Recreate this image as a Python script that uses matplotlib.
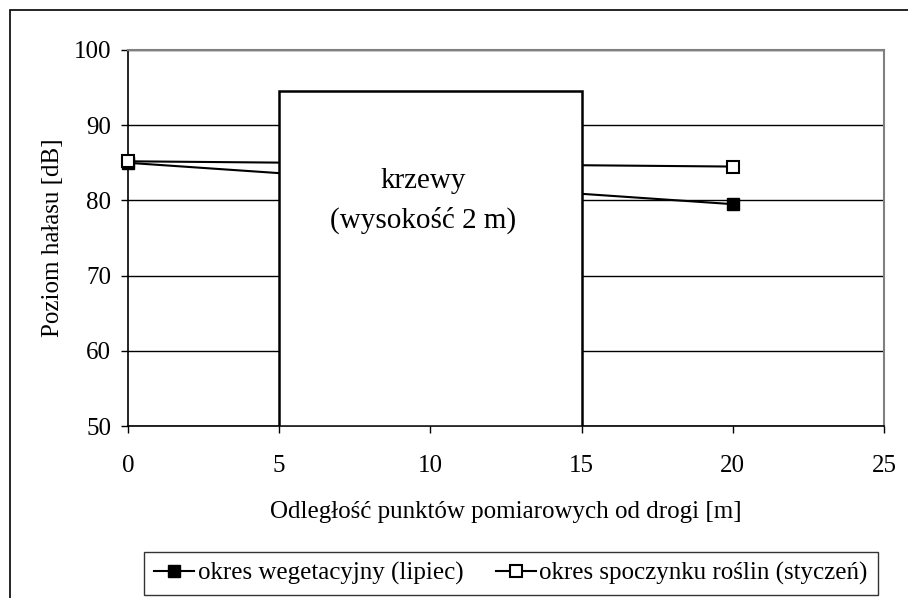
import matplotlib.pyplot as plt
from matplotlib.patches import Rectangle

plt.rcParams['font.family'] = ['Liberation Serif', 'DejaVu Serif']

# distance from the road [m]
distance = [0, 20]
summer = [85.0, 79.5]   # okres wegetacyjny (lipiec)
winter = [85.2, 84.5]   # okres spoczynku roślin (styczeń)

# shrub belt: from 5 m to 15 m, drawn up to 94.5 dB
shrub_x = (5, 15)
shrub_top = 94.5

xticks = [0, 5, 10, 15, 20, 25]
yticks = [50, 60, 70, 80, 90, 100]

FS = 18
GRAY = "#808080"

fig = plt.figure(figsize=(9.08, 5.98), dpi=100)
ax = fig.add_axes([0.141, 0.2876, 0.8326, 0.6288])

ax.plot(distance, summer, color="black", lw=1.5, marker="s", ms=8,
        mfc="black", mec="black", label="okres wegetacyjny (lipiec)", zorder=3,
        clip_on=False)
ax.plot(distance, winter, color="black", lw=1.5, marker="s", ms=8,
        mfc="white", mec="black", mew=1.5,
        label="okres spoczynku roślin (styczeń)", zorder=4, clip_on=False)

ax.add_patch(Rectangle((shrub_x[0], 50), shrub_x[1] - shrub_x[0], shrub_top - 50,
                       facecolor="white", edgecolor="black", lw=1.8, zorder=5))
ax.text((shrub_x[0] + shrub_x[1]) / 2 - 0.25, 79.9, "krzewy\n(wysokość 2 m)",
        ha="center", va="center", fontsize=21, linespacing=1.6, zorder=6)

ax.set_xlim(0, 25)
ax.set_ylim(50, 100)
ax.set_xticks(xticks)
ax.set_yticks(yticks)
ax.tick_params(direction="out", length=5, width=1, labelsize=FS, pad=7)
ax.tick_params(axis="x", pad=16)
ax.grid(axis="y", color="black", lw=1)
ax.set_axisbelow(True)
for s in ("top", "right"):
    ax.spines[s].set_color(GRAY)
    ax.spines[s].set_linewidth(1.5)
for s in ("left", "bottom"):
    ax.spines[s].set_linewidth(1.2)

ax.set_xlabel("Odległość punktów pomiarowych od drogi [m]", fontsize=FS, labelpad=17)
ax.set_ylabel("Poziom hałasu [dB]", fontsize=FS, labelpad=7)

leg = fig.legend(loc="center", bbox_to_anchor=(0.5625, 0.0405), ncol=2,
                 fontsize=FS, fancybox=False, edgecolor="black",
                 handlelength=1.6, handletextpad=0.15, columnspacing=1.3,
                 borderpad=0.4)
leg.get_frame().set_linewidth(1)

# outer chart border
fig.patches.append(Rectangle((10 / 908, -0.2), 1.2, 1.2 - 10 / 598,
                             transform=fig.transFigure, fill=False,
                             edgecolor="black", lw=1.2))

fig.savefig("out.png", dpi=100, facecolor="white")
